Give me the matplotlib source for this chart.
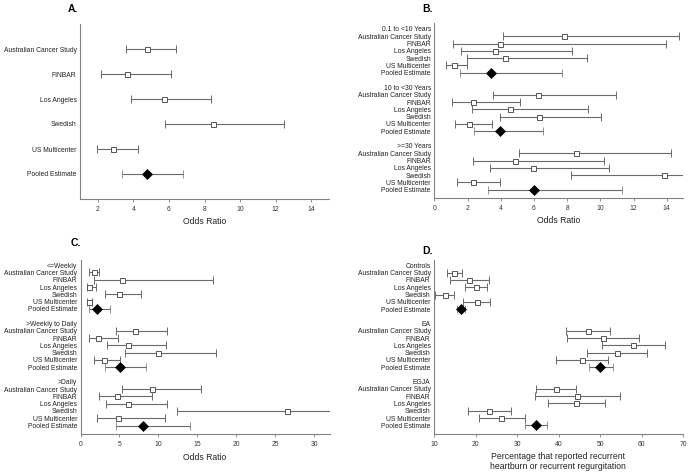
import matplotlib
matplotlib.use('Agg')
import matplotlib.pyplot as plt
import numpy as np

plt.rcParams['font.family'] = ['Liberation Sans', 'DejaVu Sans']

studies = ["Australian Cancer Study", "FINBAR", "Los Angeles", "Swedish", "US Multicenter"]
pooled_label = "Pooled Estimate"

# Panel A
a_or = [4.79, 3.63, 5.71, 8.45, 2.88]
a_lo = [3.59, 2.17, 3.89, 5.77, 1.94]
a_hi = [6.39, 6.09, 8.34, 12.46, 4.25]
a_pool_or = [4.79]
a_pool_lo = [3.37]
a_pool_hi = [6.80]

# Panel B
b_groups = ["0.1 to <10 Years", "10 to <30 Years", ">=30 Years"]
b_or = [[7.80, 3.96, 3.68, 4.24, 1.16],
        [6.24, 2.32, 4.56, 6.30, 2.08],
        [8.52, 4.84, 5.92, 13.82, 2.32]]
b_lo = [[4.12, 1.12, 1.62, 1.94, 0.70],
        [3.56, 1.06, 2.26, 3.94, 1.26],
        [5.08, 2.32, 3.34, 8.22, 1.36]]
b_hi = [[14.76, 13.96, 8.32, 9.22, 1.94],
        [10.96, 5.16, 9.24, 10.06, 3.46],
        [14.28, 10.22, 10.50, 23.20, 3.94]]
b_pool_or = [3.44, 3.94, 6.02]
b_pool_lo = [1.56, 2.38, 3.24]
b_pool_hi = [7.70, 6.54, 11.32]

# Panel C
c_groups = ["<=Weekly", ">Weekly to Daily", ">Daily"]
c_or = [[1.67, 5.38, 1.15, 4.91, 1.11],
        [7.05, 2.26, 6.11, 9.96, 3.03],
        [9.15, 4.70, 6.07, 26.50, 4.87]]
c_lo = [[1.15, 1.75, 0.81, 3.16, 0.85],
        [4.49, 1.11, 3.42, 5.68, 1.75],
        [5.34, 2.39, 3.33, 12.39, 2.18]]
c_hi = [[2.31, 17.05, 1.97, 7.78, 1.50],
        [11.15, 4.83, 11.03, 17.44, 5.13],
        [15.47, 9.19, 11.15, 56.80, 10.85]]
c_pool_or = [2.14, 5.09, 7.99]
c_pool_lo = [1.15, 3.12, 4.57]
c_pool_hi = [3.80, 8.42, 14.06]

# Panel D
d_groups = ["Controls", "EA", "EGJA"]
d_or = [[14.81, 18.50, 20.18, 12.57, 20.26],
        [47.13, 50.74, 57.96, 54.03, 45.60],
        [39.43, 44.48, 44.24, 23.31, 26.20]]
d_lo = [[13.05, 13.77, 17.38, 10.32, 17.06],
        [41.84, 42.08, 50.50, 46.73, 39.43],
        [34.62, 34.22, 37.35, 18.18, 20.75]]
d_hi = [[16.66, 23.23, 22.83, 14.89, 23.55],
        [52.34, 59.32, 65.65, 61.32, 51.78],
        [44.16, 54.83, 51.14, 28.44, 31.97]]
d_pool_or = [16.50, 50.06, 34.54]
d_pool_lo = [15.45, 47.21, 31.89]
d_pool_hi = [17.46, 52.98, 37.27]

W, H = 690, 475
fig = plt.figure(figsize=(W / 100, H / 100), dpi=100)

LINE = '#6a6a6a'
SPINE = '#808080'


def px_axes(l, t, r, b):
    return fig.add_axes([l / W, 1 - b / H, (r - l) / W, (b - t) / H])


def draw(ax, groups, ors, los, his, p_or, p_lo, p_hi, xlim, xticks, ylim):
    ypos, ylabels = [], []
    if groups is None:
        groups_iter = [(None, ors, los, his)]
    else:
        groups_iter = list(zip(groups, ors, los, his))
    for g, (name, o, lo, hi) in enumerate(groups_iter):
        base = g * 8 if groups is not None else 0
        if name is not None:
            ypos.append(base)
            ylabels.append(name)
        o = np.array(o); lo = np.array(lo); hi = np.array(hi)
        ys = base + np.arange(1, 6)
        ax.errorbar(o, ys, xerr=[o - lo, hi - o], fmt='s', mfc='white',
                    mec='#555555', ms=3.6, mew=0.7, ecolor=LINE,
                    elinewidth=0.8, capsize=2.8, capthick=0.8, zorder=3)
        ypos.extend(list(ys))
        ylabels.extend(studies)
        po, pl, ph = p_or[g], p_lo[g], p_hi[g]
        ax.errorbar([po], [base + 6], xerr=[[po - pl], [ph - po]], fmt='D',
                    mfc='black', mec='black', ms=5.6, mew=0.5, ecolor=LINE,
                    elinewidth=0.8, capsize=2.8, capthick=0.8, zorder=3)
        ypos.append(base + 6)
        ylabels.append(pooled_label)
    ax.set_yticks(ypos)
    ax.set_yticklabels(ylabels)
    ax.set_xlim(*xlim)
    ax.set_xticks(xticks)
    ax.set_ylim(*ylim)
    for s in ['top', 'right']:
        ax.spines[s].set_visible(False)
    for s in ['left', 'bottom']:
        ax.spines[s].set_color(SPINE)
        ax.spines[s].set_linewidth(0.8)
    ax.tick_params(axis='y', length=0, pad=2.5, labelsize=4.9, labelcolor='#222222')
    ax.tick_params(axis='x', length=2.2, width=0.6, color=SPINE, pad=2.8,
                   labelsize=4.9, labelcolor='#333333')


axA = px_axes(80, 24, 329, 199)
draw(axA, None, a_or, a_lo, a_hi, a_pool_or, a_pool_lo, a_pool_hi,
     (1, 15), np.arange(2, 15, 2), (7, 0))

axB = px_axes(434.3, 22.5, 683.3, 197.8)
draw(axB, b_groups, b_or, b_lo, b_hi, b_pool_or, b_pool_lo, b_pool_hi,
     (0, 15), np.arange(0, 15, 2), (23.1, -0.88))

axC = px_axes(80.5, 259.7, 330, 434.3)
draw(axC, c_groups, c_or, c_lo, c_hi, c_pool_or, c_pool_lo, c_pool_hi,
     (0, 32), np.arange(0, 31, 5), (23.2, -0.75))

axD = px_axes(434, 260, 683.3, 434.0)
draw(axD, d_groups, d_or, d_lo, d_hi, d_pool_or, d_pool_lo, d_pool_hi,
     (10, 70), np.arange(10, 71, 10), (23.2, -0.75))

# Panel titles
tkw = dict(fontsize=7.5, fontweight='bold', ha='left', va='center')
fig.text(68 / W, 1 - 9.5 / H, "A.", **tkw)
fig.text(422 / W, 1 - 9.5 / H, "B.", **tkw)
fig.text(71 / W, 1 - 243 / H, "C.", **tkw)
fig.text(422 / W, 1 - 251.5 / H, "D.", **tkw)

# Axis labels
lkw = dict(fontsize=6.2, ha='center', va='center', color='#222222')
fig.text(204.5 / W, 1 - 221.7 / H, "Odds Ratio", **lkw)
fig.text(559 / W, 1 - 220.3 / H, "Odds Ratio", **lkw)
fig.text(205 / W, 1 - 457.7 / H, "Odds Ratio", **lkw)
fig.text(558 / W, 1 - 461.5 / H,
         "Percentage that reported recurrent\nheartburn or recurrent regurgitation",
         linespacing=1.25, **lkw)

fig.savefig('out.png', dpi=100)
